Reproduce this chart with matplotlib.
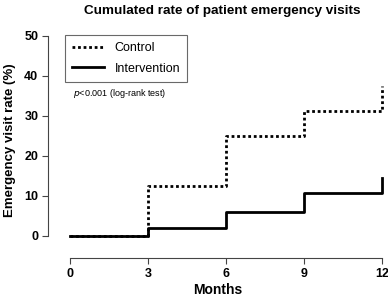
import matplotlib
matplotlib.use('Agg')
import matplotlib.pyplot as plt

plt.rcParams['font.family'] = ['Liberation Sans', 'DejaVu Sans']

months = [0, 3, 6, 9, 12]
control = [0, 12.5, 25, 31.25, 37.5]
intervention = [0, 2, 6, 10.8, 14.5]
x_ticks = [0, 3, 6, 9, 12]
y_ticks = [0, 10, 20, 30, 40, 50]

W, H = 388, 300
fig = plt.figure(figsize=(W / 100, H / 100), dpi=100)
# axes box in pixels: left 48, right 388, bottom 258, top 30
ax = fig.add_axes([48 / W, (H - 258) / H, (388 - 48) / W, (258 - 30) / H])
ax.set_xlim((48 - 70) / 26, (388 - 70) / 26)
ax.set_ylim((236 - 258) / 4, (236 - 30) / 4)

ax.step(months, control, where='post', color='black', lw=2, ls=(0, (1, 1)), label='Control')
ax.step(months, intervention, where='post', color='black', lw=2, label='Intervention')

for s in ['top', 'right']:
    ax.spines[s].set_visible(False)
ax.spines['left'].set_bounds(0, 50)
ax.spines['bottom'].set_bounds(0, 12)
ax.spines['left'].set_color('#444444')
ax.spines['bottom'].set_color('#444444')
ax.set_xticks(x_ticks)
ax.set_yticks(y_ticks)
ax.tick_params(length=4, width=0.8, color='#444444', labelsize=9, pad=3)
for lab in ax.get_xticklabels() + ax.get_yticklabels():
    lab.set_fontweight('bold')

ax.set_xlabel('Months', fontsize=10, fontweight='bold', labelpad=2)
ax.set_ylabel('Emergency visit rate (%)', fontsize=9.5, fontweight='bold')
ax.yaxis.set_label_coords(-0.095, (258 - 140) / 228)

leg = ax.legend(loc='upper left', bbox_to_anchor=((65 - 48) / 340, (258 - 35) / 228),
                fontsize=9, frameon=True, fancybox=False, edgecolor='#444444',
                handlelength=2.6, borderpad=0.55, labelspacing=0.7, handletextpad=0.8,
                borderaxespad=0)
leg.get_frame().set_linewidth(0.8)

ax.text(73, H - 93, r'$\it{p}$<0.001 (log-rank test)', transform=None, fontsize=6.5,
        va='center', ha='left')
fig.text(222 / W, 1 - 11 / H, 'Cumulated rate of patient emergency visits',
         ha='center', va='center', fontsize=9.7, fontweight='bold')

fig.savefig('out.png', dpi=100)
